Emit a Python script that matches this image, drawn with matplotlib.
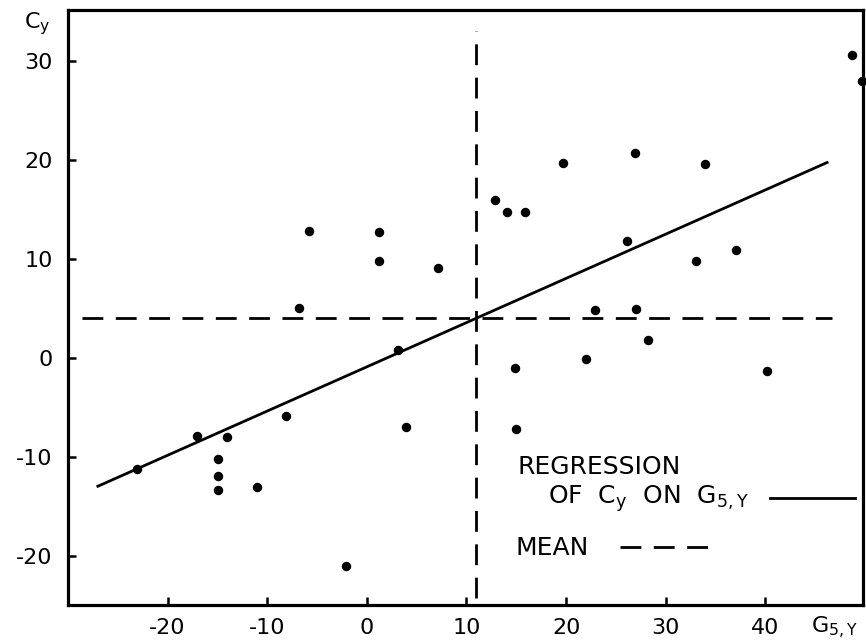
import matplotlib
matplotlib.use("Agg")
import matplotlib.pyplot as plt

plt.rcParams['font.family'] = ['DejaVu Sans']
plt.rcParams['mathtext.default'] = 'regular'
plt.rcParams['lines.scale_dashes'] = False

# Data
g5y = [-23.1, -17.0, -14.0, -14.9, -14.9, -14.9, -11.0, -8.1, -6.8, -5.8,
       -2.1, 1.2, 1.2, 3.1, 3.9, 7.1, 12.9, 14.1, 15.9, 14.9,
       15.0, 19.7, 22.0, 22.9, 26.1, 26.9, 27.0, 28.2, 33.0, 33.9,
       37.1, 40.2, 48.7, 49.7]
cy = [-11.3, -7.9, -8.0, -10.2, -12.0, -13.4, -13.1, -5.9, 5.0, 12.8,
      -21.1, 12.7, 9.8, 0.8, -7.0, 9.0, 15.9, 14.7, 14.7, -1.1,
      -7.2, 19.6, -0.1, 4.8, 11.8, 20.7, 4.9, 1.8, 9.8, 19.5,
      10.9, -1.4, 30.6, 27.9]

reg_x = [-27.0, 46.2]
reg_y = [-13.0, 19.7]

mean_x = 11.0
mean_y = 4.0
mean_x_span = [-24.3, 33.0]   # vertical mean line extent (in Cy units)
mean_y_span = [-28.6, 46.7]   # horizontal mean line extent (in G units)

xticks = [-20, -10, 0, 10, 20, 30, 40]
xticklabels = ["-20", "-10", "0", "10", "20", "30", "40"]
yticks = [-20, -10, 0, 10, 20, 30]
yticklabels = ["-20", "-10", "0", "10", "20", "30"]

fig = plt.figure(figsize=(8.66, 6.43), dpi=100)
ax = fig.add_axes([0.0785, 0.059, 0.918, 0.9254])
ax.set_xlim(-30.0, 49.8)
ax.set_ylim(-25.0, 35.1)

ax.plot(g5y, cy, 'o', color='black', ms=5.8, clip_on=False, zorder=3)
ax.plot(reg_x, reg_y, '-', color='black', lw=2.0)
ax.plot([mean_x, mean_x], mean_x_span, color='black', lw=2.0, dashes=(15, 9))
ax.plot(mean_y_span, [mean_y, mean_y], color='black', lw=2.0, dashes=(15, 9))

for s in ax.spines.values():
    s.set_linewidth(2.3)

ax.set_xticks(xticks)
ax.set_xticklabels(xticklabels)
ax.set_yticks(yticks)
ax.set_yticklabels(yticklabels)
ax.tick_params(direction='in', length=6, width=1.8, labelsize=16,
               top=False, right=False)
ax.tick_params(axis='y', pad=11)
ax.tick_params(axis='x', pad=9)

# axis labels
fig.text(0.043, 0.963, "C$_y$", fontsize=16, ha='center', va='center')
fig.text(0.963, 0.023, "G$_{5,Y}$", fontsize=16, ha='center', va='center')

# hand-drawn style key
ax.text(15.1, -11.1, "REGRESSION", fontsize=18, ha='left', va='center')
ax.text(18.2, -14.3, "OF  C$_y$  ON  G$_{5,Y}$", fontsize=18, ha='left', va='center')
ax.plot([40.5, 49.0], [-14.2, -14.2], '-', color='black', lw=2.0)
ax.text(14.9, -19.2, "MEAN", fontsize=18, ha='left', va='center')
ax.plot([25.4, 34.4], [-19.1, -19.1], color='black', lw=2.0, dashes=(15, 9))

fig.savefig("out.png", dpi=100)
